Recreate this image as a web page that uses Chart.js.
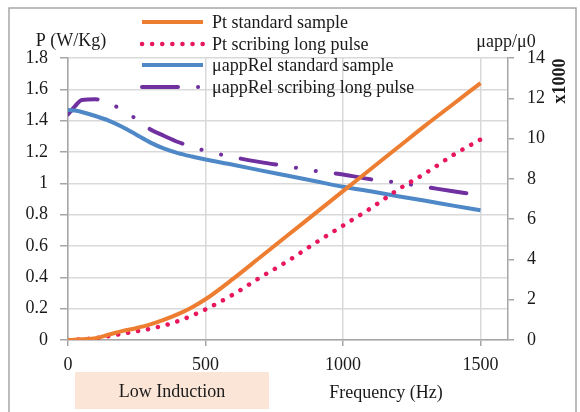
<!DOCTYPE html>
<html>
<head>
<meta charset="utf-8">
<script src="https://cdn.jsdelivr.net/npm/chart.js@4/dist/chart.umd.min.js"></script>
<style>
  body { margin: 0; background: #fff; }
</style>
</head>
<body>
<canvas id="myChart" width="580" height="412"></canvas>
<script>
// frequency points (Hz)
const freq = [0, 25, 50, 100, 150, 200, 250, 300, 350, 400, 450, 500, 600, 700, 800, 900, 1000, 1100, 1200, 1300, 1400, 1500];

// losses P (W/Kg), left axis
const ptStandard = [0, 0.002, 0.005, 0.012, 0.035, 0.058, 0.077, 0.1, 0.13, 0.165, 0.208, 0.26, 0.39, 0.53, 0.67, 0.81, 0.95, 1.09, 1.23, 1.37, 1.505, 1.64];
const ptScribing = [0, 0.002, 0.004, 0.012, 0.025, 0.04, 0.056, 0.072, 0.093, 0.12, 0.155, 0.195, 0.29, 0.4, 0.505, 0.62, 0.73, 0.84, 0.96, 1.065, 1.18, 1.28];

// relative permeability x1000, right axis
const muStandard = [11.42, 11.39, 11.32, 11.12, 10.88, 10.56, 10.18, 9.8, 9.5, 9.28, 9.11, 8.96, 8.7, 8.42, 8.15, 7.88, 7.61, 7.38, 7.14, 6.91, 6.67, 6.44];
const muScribing = [11.2, 11.6, 11.92, 11.95, 11.73, 11.42, 10.95, 10.45, 10.13, 9.83, 9.6, 9.39, 9.08, 8.83, 8.62, 8.39, 8.22, 7.98, 7.81, 7.6, 7.38, 7.18];

const xTicks = [0, 500, 1000, 1500];
const leftTitle = "P (W/Kg)";
const rightTitle = "\u03bcapp/\u03bc0";
const rightUnit = "x1000";
const xTitle = "Frequency (Hz)";
const boxLabel = "Low Induction";

const serif = "'Liberation Serif', 'Times New Roman', serif";
const gridColor = "#d9d9d9";
const axisColor = "#a6a6a6";

function toPoints(ys) {
    var result = [];
    for (var i = 0; i < freq.length; i++) result[i] = { x: freq[i], y: ys[i] };
    return result;
}

function plainNumber(value) {
    return String(Math.round(value * 10) / 10);
}

const extras = {
    id: "extras",
    afterDraw(chart) {
        const c = chart.ctx;
        c.save();

        // outer frame
        c.strokeStyle = "#a6a6a6";
        c.lineWidth = 1.5;
        c.strokeRect(9, 8, 567, 420);

        // legend
        const rows = [22, 44, 65, 87];
        c.font = "18px " + serif;
        c.textBaseline = "middle";
        c.textAlign = "left";
        chart.data.datasets.forEach(function (ds, i) {
            c.save();
            c.strokeStyle = ds.borderColor;
            c.lineWidth = ds.borderWidth;
            c.lineCap = ds.borderCapStyle || "butt";
            c.setLineDash(ds.borderDash || []);
            c.beginPath();
            c.moveTo(142, rows[i]);
            c.lineTo(203, rows[i]);
            c.stroke();
            c.restore();
            c.fillStyle = "#1a1a1a";
            c.fillText(ds.label, 212, rows[i] + 1);
        });

        // axis titles
        c.fillStyle = "#1a1a1a";
        c.textAlign = "center";
        c.fillText(leftTitle, 71, 41);
        c.fillText(rightTitle, 506, 42);

        c.save();
        c.translate(560, 81);
        c.rotate(-Math.PI / 2);
        c.font = "bold 18px " + serif;
        c.fillText(rightUnit, 0, 0);
        c.restore();

        // low induction box
        c.fillStyle = "#fbe5d6";
        c.fillRect(75, 372, 194, 37);
        c.fillStyle = "#1a1a1a";
        c.fillText(boxLabel, 172, 392);
        c.fillText(xTitle, 386, 393);

        c.restore();
    }
};

const ctx = document.getElementById("myChart").getContext("2d");
const myChart = new Chart(ctx, {
    type: "line",
    data: {
        datasets: [{
            label: "Pt standard sample",
            data: toPoints(ptStandard),
            yAxisID: "y",
            borderColor: "#ed7d31",
            borderWidth: 4,
            pointRadius: 0,
            cubicInterpolationMode: "monotone",
        }, {
            label: "Pt scribing long pulse",
            data: toPoints(ptScribing),
            yAxisID: "y",
            borderColor: "#e8175d",
            borderWidth: 4.5,
            borderDash: [0.1, 10],
            borderCapStyle: "round",
            pointRadius: 0,
            cubicInterpolationMode: "monotone",
        }, {
            label: "\u03bcappRel standard sample",
            data: toPoints(muStandard),
            yAxisID: "y2",
            borderColor: "#4e88c7",
            borderWidth: 4,
            pointRadius: 0,
            cubicInterpolationMode: "monotone",
        }, {
            label: "\u03bcappRel scribing long pulse",
            data: toPoints(muScribing),
            yAxisID: "y2",
            borderColor: "#7030a0",
            borderWidth: 4,
            borderDash: [36, 20, 0.1, 20, 0.1, 20],
            borderCapStyle: "round",
            pointRadius: 0,
            cubicInterpolationMode: "monotone",
        }],
    },
    options: {
        responsive: false,
        animation: false,
        layout: { padding: { top: 58 } },
        plugins: {
            legend: { display: false },
            tooltip: { enabled: false },
        },
        scales: {
            x: {
                type: "linear",
                min: 0,
                max: 1600,
                afterBuildTicks: function (scale) {
                    scale.ticks = xTicks.map(function (v) { return { value: v }; });
                },
                afterFit: function (scale) { scale.height = 72; },
                grid: { color: gridColor, lineWidth: 1.5, tickLength: 6, tickColor: axisColor },
                border: { color: axisColor, width: 1.5 },
                ticks: { color: "#1a1a1a", font: { family: serif, size: 18 }, padding: 8, maxRotation: 0, callback: plainNumber },
            },
            y: {
                position: "left",
                min: 0,
                max: 1.8,
                afterFit: function (scale) { scale.width = 68; },
                grid: { color: gridColor, lineWidth: 1.5, tickLength: 8, tickColor: axisColor },
                border: { color: axisColor, width: 1.5 },
                ticks: { stepSize: 0.2, color: "#1a1a1a", font: { family: serif, size: 18 }, padding: 12, callback: plainNumber },
            },
            y2: {
                position: "right",
                min: 0,
                max: 14,
                afterFit: function (scale) { scale.width = 72; },
                grid: { drawOnChartArea: false, tickLength: 6, tickColor: axisColor, lineWidth: 1.5 },
                border: { color: axisColor, width: 1.5 },
                ticks: { stepSize: 2, color: "#1a1a1a", font: { family: serif, size: 18 }, padding: 13, callback: plainNumber },
            },
        },
    },
    plugins: [extras],
});
</script>
</body>
</html>
